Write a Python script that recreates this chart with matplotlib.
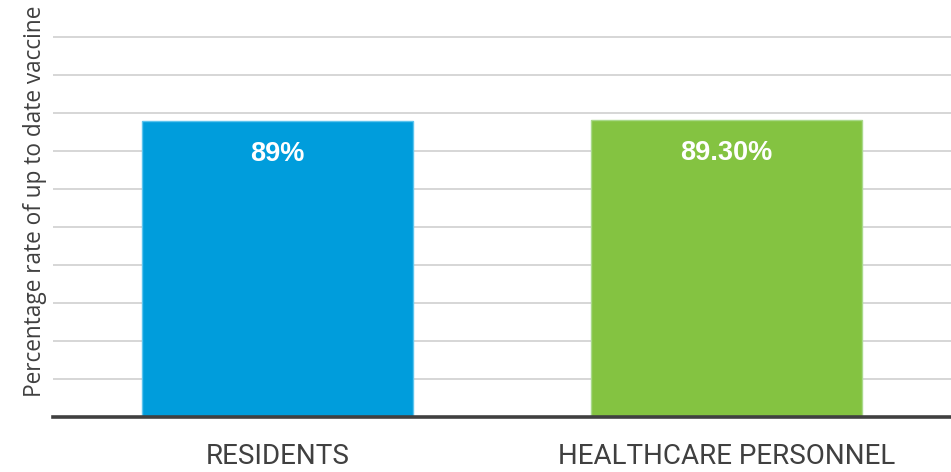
import matplotlib.pyplot as plt

FILENAME = 'out.png'

CATEGORIES = ['RESIDENTS', 'HEALTHCARE PERSONNEL']
VALUES = [89.0, 89.3]
VALUE_LABELS = ['89%', '89.30%']
COLORS = ['#009ddc', '#84c341']
EDGE_COLORS = ['#5cc4ee', '#a9d98a']

GRID_STEP = 11.43
GRID_COUNT = 10
Y_MAX = 125.4
BAR_WIDTH = 0.603
TEXT_COLOR = '#404040'


def main():
    figure = plt.figure(figsize=(9.51, 4.72), dpi=100)
    axis = figure.add_axes([53 / 951, 55 / 472, 898 / 951, 417 / 472])

    positions = range(len(CATEGORIES))
    axis.bar(positions, VALUES, width=BAR_WIDTH, color=COLORS,
             edgecolor=EDGE_COLORS, linewidth=1.0, zorder=3)

    for x, value, label in zip(positions, VALUES, VALUE_LABELS):
        axis.text(x, value - 9.8, label, ha='center', va='center',
                  color='white', fontsize=19.5, fontweight='bold',
                  family='Liberation Sans', zorder=4)

    axis.set_xlim(-0.5, 1.5)
    axis.set_ylim(0, Y_MAX)

    axis.set_yticks([GRID_STEP * i for i in range(1, GRID_COUNT + 1)])
    axis.set_yticklabels([])
    axis.tick_params(axis='y', length=0)
    axis.grid(axis='y', color='#d3d3d3', linewidth=1.3, zorder=0)

    axis.set_xticks(list(positions))
    axis.set_xticklabels(CATEGORIES, family='Roboto', fontsize=20,
                         color=TEXT_COLOR)
    axis.tick_params(axis='x', length=0, pad=19)

    for side in ['top', 'right', 'left']:
        axis.spines[side].set_visible(False)
    axis.spines['bottom'].set_color(TEXT_COLOR)
    axis.spines['bottom'].set_linewidth(2.6)
    axis.spines['bottom'].set_zorder(5)

    axis.set_ylabel('Percentage rate of up to date vaccine', family='Open Sans',
                    fontsize=16.3, color=TEXT_COLOR)
    axis.yaxis.set_label_coords(-6 / 898, 0.517)

    figure.savefig(FILENAME, dpi=100)


if __name__ == "__main__":
    main()
